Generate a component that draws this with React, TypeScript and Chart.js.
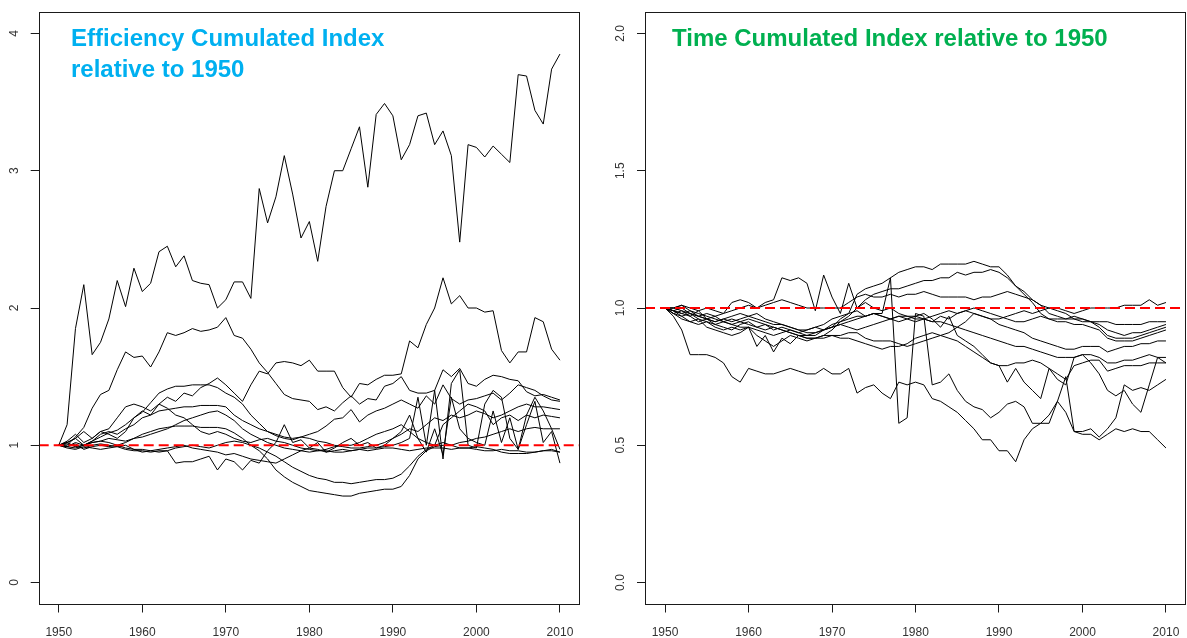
import React, { useEffect, useRef } from 'react';
import { Chart, registerables } from 'chart.js';

Chart.register(...registerables);

// ---------- data ----------
const YEARS = Array.from({ length: 61 }, (_, i) => 1950 + i);
const X_TICKS = [1950, 1960, 1970, 1980, 1990, 2000, 2010];
const X_MIN = 1947.6;
const X_MAX = 2012.4;
const EFF_Y_TICKS = [0, 1, 2, 3, 4];
const TIME_Y_TICKS = [0, 0.5, 1, 1.5, 2];
const REF_LEVEL = 1;

const EFF_TITLE = ['Efficiency Cumulated Index', 'relative to 1950'];
const TIME_TITLE = ['Time Cumulated Index relative to 1950'];

// Efficiency cumulated index, 1950..2010
const EFF_A = [
  1.00, 1.15, 1.85, 2.17, 1.66, 1.75, 1.92, 2.20, 2.01, 2.29,
  2.12, 2.18, 2.41, 2.45, 2.30, 2.38, 2.20, 2.18, 2.17, 2.00,
  2.06, 2.19, 2.19, 2.07, 2.87, 2.62, 2.81, 3.11, 2.83, 2.51,
  2.63, 2.34, 2.74, 3.00, 3.00, 3.16, 3.32, 2.88, 3.41, 3.49,
  3.40, 3.08, 3.19, 3.40, 3.42, 3.19, 3.29, 3.11, 2.48, 3.19,
  3.17, 3.10, 3.18, 3.12, 3.06, 3.70, 3.69, 3.44, 3.34, 3.74, 3.85,
];
const EFF_B = [
  1.00, 1.00, 1.06, 1.13, 1.27, 1.37, 1.40, 1.55, 1.68, 1.64,
  1.65, 1.57, 1.68, 1.82, 1.80, 1.82, 1.85, 1.83, 1.84, 1.86,
  1.93, 1.80, 1.78, 1.70, 1.60, 1.53, 1.45, 1.37, 1.34, 1.33,
  1.32, 1.26, 1.28, 1.25, 1.31, 1.36, 1.30, 1.34, 1.33, 1.43,
  1.45, 1.50, 1.40, 1.38, 1.38, 1.40, 1.55, 1.50, 1.56, 1.45,
  1.43, 1.48, 1.51, 1.50, 1.48, 1.47, 1.39, 1.36, 1.37, 1.35, 1.33,
];
const EFF_C = [
  1.00, 1.03, 1.08, 1.02, 1.05, 1.10, 1.08, 1.05, 1.10, 1.20,
  1.25, 1.22, 1.30, 1.35, 1.32, 1.38, 1.36, 1.42, 1.45, 1.49,
  1.44, 1.38, 1.32, 1.44, 1.54, 1.52, 1.60, 1.61, 1.60, 1.58,
  1.62, 1.54, 1.54, 1.54, 1.42, 1.35, 1.45, 1.44, 1.48, 1.51,
  1.51, 1.52, 1.76, 1.71, 1.88, 2.00, 2.22, 2.03, 2.09, 2.00,
  2.00, 1.97, 1.98, 1.69, 1.60, 1.68, 1.68, 1.93, 1.90, 1.70, 1.62,
];
const EFF_D = [
  1.00, 0.99, 1.02, 1.00, 1.03, 1.06, 1.09, 1.11, 1.15, 1.20,
  1.24, 1.31, 1.38, 1.41, 1.43, 1.43, 1.44, 1.44, 1.44, 1.42,
  1.38, 1.35, 1.30, 1.22, 1.16, 1.10, 1.07, 1.05, 1.04, 1.06,
  1.08, 1.10, 1.14, 1.19, 1.20, 1.26, 1.17, 1.22, 1.25, 1.27,
  1.30, 1.33, 1.30, 1.27, 1.36, 1.30, 1.44, 1.34, 1.30, 1.33,
  1.34, 1.36, 1.38, 1.33, 1.38, 1.44, 1.42, 1.40, 1.36, 1.33, 1.32,
];
const EFF_E = [
  1.00, 1.02, 1.05, 1.00, 1.03, 1.08, 1.10, 1.08, 1.12, 1.15,
  1.20, 1.22, 1.25, 1.26, 1.27, 1.28, 1.28, 1.29, 1.29, 1.29,
  1.28, 1.22, 1.18, 1.15, 1.12, 1.10, 1.08, 1.06, 1.05, 1.06,
  1.05, 1.03, 1.02, 1.00, 0.99, 0.98, 0.98, 0.99, 1.00, 1.02,
  1.05, 1.08, 1.12, 1.10, 1.15, 1.20, 1.18, 1.22, 1.20, 1.22,
  1.25, 1.23, 1.20, 1.22, 1.25, 1.28, 1.30, 1.28, 1.28, 1.27, 1.26,
];
const EFF_F = [
  1.00, 0.99, 0.98, 1.00, 1.02, 1.03, 1.02, 1.00, 1.02, 1.05,
  1.08, 1.10, 1.12, 1.13, 1.14, 1.14, 1.14, 1.13, 1.13, 1.13,
  1.12, 1.09, 1.05, 1.00, 0.96, 0.90, 0.82, 0.77, 0.73, 0.70,
  0.67, 0.66, 0.65, 0.64, 0.63, 0.63, 0.65, 0.66, 0.67, 0.68,
  0.68, 0.70, 0.78, 0.90, 0.96, 0.99, 1.00, 1.00, 0.98, 0.98,
  0.99, 0.98, 0.97, 0.95, 0.94, 0.94, 0.94, 0.95, 0.96, 0.97, 0.95,
];
const EFF_G = [
  1.00, 0.98, 0.97, 0.99, 0.98, 0.97, 0.98, 0.99, 1.00, 0.97,
  0.95, 0.96, 0.95, 0.96, 0.98, 0.99, 1.00, 0.99, 0.98, 1.00,
  1.02, 1.03, 1.02, 1.00, 0.98, 0.95, 0.92, 0.88, 0.84, 0.81,
  0.78, 0.76, 0.75, 0.73, 0.73, 0.72, 0.73, 0.74, 0.75, 0.75,
  0.76, 0.79, 0.85, 0.92, 0.97, 1.00, 1.02, 1.00, 1.02, 1.03,
  1.05, 1.06, 1.08, 1.10, 1.12, 1.10, 1.12, 1.13, 1.12, 1.12, 1.12,
];
const EFF_H = [
  1.00, 1.02, 0.99, 0.98, 1.00, 1.01, 1.00, 0.99, 0.97, 0.96,
  0.96, 0.95, 0.96, 0.96, 0.87, 0.88, 0.88, 0.90, 0.92, 0.82,
  0.90, 0.88, 0.82, 0.89, 0.87, 0.96, 1.02, 1.15, 1.02, 1.04,
  0.98, 1.02, 0.95, 0.98, 1.02, 1.05, 1.00, 1.02, 0.98, 1.00,
  1.05, 1.10, 1.22, 1.05, 0.95, 1.12, 0.93, 1.35, 1.12, 1.05,
  1.02, 1.00, 1.25, 1.02, 1.20, 0.97, 1.15, 1.32, 1.02, 1.10, 0.87,
];
const EFF_I = [
  1.00, 0.99, 1.01, 0.97, 0.99, 1.00, 0.99, 1.00, 0.98, 0.97,
  0.97, 0.96, 0.97, 0.98, 0.99, 1.00, 0.98, 0.97, 0.96, 0.95,
  0.93, 0.94, 0.92, 0.90, 0.89, 0.88, 0.87, 0.90, 0.93, 0.96,
  0.98, 0.97, 0.95, 0.96, 0.97, 0.96, 0.97, 0.98, 0.98, 0.99,
  1.00, 1.02, 1.05, 1.35, 1.00, 1.40, 0.90, 1.45, 1.55, 1.00,
  0.98, 1.30, 1.40, 1.35, 1.05, 0.97, 1.22, 1.35, 1.25, 1.12, 0.97,
];
const EFF_J = [
  1.00, 1.01, 0.99, 1.00, 1.02, 1.03, 1.05, 1.04, 1.03, 1.05,
  1.06, 1.08, 1.10, 1.12, 1.15, 1.18, 1.20, 1.22, 1.24, 1.25,
  1.22, 1.18, 1.12, 1.08, 1.05, 1.02, 1.00, 0.98, 0.97, 0.96,
  0.95, 0.96, 0.97, 0.99, 1.00, 1.00, 1.02, 1.05, 1.08, 1.10,
  1.12, 1.15, 1.10, 1.05, 1.02, 1.00, 1.15, 1.20, 1.25, 1.30,
  1.28, 1.25, 1.15, 1.20, 1.22, 1.18, 1.22, 1.20, 1.22, 1.21, 1.20,
];
const EFF_K = [
  1.00, 1.02, 1.05, 1.10, 1.05, 1.10, 1.12, 1.20, 1.28, 1.30,
  1.28, 1.25, 1.30, 1.27, 1.22, 1.20, 1.15, 1.10, 1.08, 1.10,
  1.08, 1.05, 1.03, 1.02, 1.04, 1.05, 1.03, 1.02, 1.00, 0.98,
  0.97, 0.96, 0.96, 0.95, 0.95, 0.96, 0.97, 0.96, 0.97, 0.98,
  0.98, 0.97, 0.96, 0.97, 0.98, 0.98, 0.98, 0.97, 0.98, 0.98,
  0.97, 0.96, 0.96, 0.97, 0.96, 0.96, 0.95, 0.95, 0.96, 0.96, 0.95,
];

// Time cumulated index, 1950..2010
const TIME_1 = [
  1.00, 1.00, 1.01, 0.99, 0.98, 0.97, 0.96, 0.95, 0.94, 0.93,
  0.93, 0.92, 0.91, 0.90, 0.91, 0.92, 0.91, 0.90, 0.90, 0.92,
  0.93, 0.96, 0.98, 1.05, 1.07, 1.08, 1.09, 1.11, 1.13, 1.14,
  1.15, 1.15, 1.14, 1.16, 1.16, 1.16, 1.16, 1.17, 1.16, 1.15,
  1.15, 1.12, 1.08, 1.06, 1.03, 1.01, 0.98, 0.97, 0.96, 0.96,
  0.95, 0.95, 0.93, 0.90, 0.89, 0.89, 0.89, 0.90, 0.91, 0.92, 0.93,
];
const TIME_2 = [
  1.00, 0.99, 0.98, 0.99, 0.97, 0.96, 0.97, 0.95, 0.94, 0.95,
  0.96, 0.95, 0.94, 0.93, 0.92, 0.91, 0.90, 0.89, 0.89, 0.90,
  0.92, 0.95, 0.97, 1.00, 1.03, 1.05, 1.06, 1.07, 1.07, 1.08,
  1.09, 1.10, 1.10, 1.11, 1.11, 1.13, 1.12, 1.13, 1.13, 1.14,
  1.13, 1.11, 1.08, 1.05, 1.02, 0.98, 0.96, 0.95, 0.95, 0.94,
  0.94, 0.93, 0.92, 0.89, 0.88, 0.88, 0.88, 0.89, 0.90, 0.91, 0.92,
];
const TIME_3 = [
  1.00, 1.00, 1.01, 1.00, 0.99, 1.00, 0.99, 0.98, 1.02, 1.03,
  1.02, 1.00, 1.01, 1.02, 1.03, 1.02, 1.01, 1.00, 1.00, 1.00,
  1.00, 1.00, 1.02, 1.04, 1.05, 1.04, 1.04, 1.05, 1.04, 1.05,
  1.05, 1.06, 1.05, 1.04, 1.04, 1.04, 1.04, 1.03, 1.04, 1.04,
  1.05, 1.06, 1.05, 1.04, 1.03, 1.01, 1.00, 1.00, 0.99, 0.98,
  0.99, 1.00, 1.00, 1.00, 1.00, 1.01, 1.01, 1.01, 1.03, 1.01, 1.02,
];
const TIME_4 = [
  1.00, 1.00, 0.99, 0.98, 0.97, 0.98, 0.97, 0.98, 0.99, 1.00,
  1.01, 1.00, 1.02, 1.03, 1.11, 1.10, 1.11, 1.09, 0.99, 1.12,
  1.04, 0.98, 1.09, 1.00, 1.02, 1.00, 0.99, 1.00, 0.98, 0.97,
  0.97, 0.96, 0.95, 0.97, 0.96, 0.98, 0.99, 0.98, 0.97, 0.96,
  0.96, 0.97, 0.98, 0.99, 0.98, 0.99, 1.00, 0.99, 0.98, 0.96,
  0.96, 0.95, 0.94, 0.92, 0.91, 0.90, 0.91, 0.91, 0.92, 0.93, 0.94,
];
const TIME_5 = [
  1.00, 0.99, 1.00, 0.98, 0.97, 0.96, 0.95, 0.96, 0.97, 0.98,
  0.97, 0.96, 0.95, 0.94, 0.94, 0.93, 0.92, 0.91, 0.91, 0.92,
  0.94, 0.95, 0.96, 0.97, 0.97, 0.98, 0.97, 0.96, 0.97, 0.96,
  0.95, 0.96, 0.97, 0.98, 0.99, 0.98, 0.99, 1.00, 0.99, 0.98,
  0.97, 0.96, 0.95, 0.95, 0.96, 0.97, 0.96, 0.96, 0.96, 0.97,
  0.96, 0.95, 0.95, 0.95, 0.94, 0.94, 0.94, 0.94, 0.95, 0.95, 0.95,
];
const TIME_6 = [
  1.00, 0.98, 0.96, 0.95, 0.94, 0.95, 0.93, 0.92, 0.93, 0.92,
  0.93, 0.86, 0.90, 0.84, 0.89, 0.87, 0.90, 0.89, 0.89, 0.89,
  0.90, 0.90, 0.91, 0.91, 0.89, 0.88, 0.88, 0.88, 0.87, 0.86,
  0.87, 0.88, 0.89, 0.90, 0.91, 0.93, 0.95, 0.98, 0.97, 0.96,
  0.94, 0.93, 0.92, 0.91, 0.89, 0.88, 0.87, 0.86, 0.85, 0.85,
  0.86, 0.86, 0.86, 0.84, 0.85, 0.86, 0.86, 0.87, 0.87, 0.88, 0.88,
];
const TIME_7 = [
  1.00, 0.99, 0.97, 0.98, 0.96, 0.95, 0.94, 0.95, 0.96, 0.95,
  0.94, 0.93, 0.92, 0.93, 0.92, 0.91, 0.90, 0.90, 0.91, 0.92,
  0.93, 0.94, 0.95, 0.96, 0.97, 0.98, 0.97, 0.96, 0.97, 0.97,
  0.96, 0.96, 0.95, 0.95, 0.94, 0.93, 0.92, 0.91, 0.90, 0.89,
  0.88, 0.87, 0.86, 0.86, 0.85, 0.84, 0.83, 0.82, 0.82, 0.82,
  0.83, 0.83, 0.82, 0.80, 0.80, 0.81, 0.81, 0.82, 0.83, 0.82, 0.82,
];
const TIME_8 = [
  1.00, 0.98, 0.99, 0.97, 0.95, 0.96, 0.94, 0.93, 0.92, 0.94,
  0.95, 0.93, 0.94, 0.92, 0.93, 0.92, 0.91, 0.92, 0.93, 0.92,
  0.93, 0.94, 0.93, 0.92, 0.93, 0.94, 0.95, 0.96, 0.95, 0.96,
  0.97, 0.98, 0.96, 0.93, 0.97, 0.90, 0.88, 0.86, 0.83, 0.80,
  0.79, 0.73, 0.78, 0.73, 0.70, 0.67, 0.78, 0.74, 0.72, 0.82,
  0.83, 0.80, 0.76, 0.70, 0.68, 0.70, 0.65, 0.62, 0.72, 0.82, 0.80,
];
const TIME_9 = [
  1.00, 0.97, 0.92, 0.83, 0.83, 0.83, 0.82, 0.80, 0.75, 0.73,
  0.78, 0.77, 0.76, 0.76, 0.77, 0.78, 0.77, 0.76, 0.76, 0.78,
  0.76, 0.76, 0.78, 0.69, 0.71, 0.72, 0.69, 0.67, 0.73, 0.72,
  0.73, 0.72, 0.67, 0.66, 0.64, 0.62, 0.59, 0.56, 0.52, 0.52,
  0.48, 0.48, 0.44, 0.52, 0.56, 0.58, 0.61, 0.66, 0.62, 0.55,
  0.54, 0.54, 0.52, 0.54, 0.56, 0.55, 0.56, 0.55, 0.55, 0.52, 0.49,
];
const TIME_10 = [
  1.00, 0.99, 0.98, 0.97, 0.99, 0.96, 0.95, 0.96, 0.95, 0.96,
  0.97, 0.98, 0.96, 0.95, 0.94, 0.93, 0.92, 0.92, 0.93, 0.94,
  0.96, 0.97, 0.98, 0.99, 0.97, 0.98, 0.98, 1.11, 0.58, 0.60,
  0.98, 0.97, 0.72, 0.73, 0.76, 0.70, 0.66, 0.64, 0.63, 0.60,
  0.62, 0.65, 0.66, 0.64, 0.58, 0.58, 0.58, 0.66, 0.75, 0.55,
  0.55, 0.56, 0.53, 0.56, 0.60, 0.72, 0.70, 0.71, 0.70, 0.72, 0.74,
];
const TIME_11 = [
  1.00, 0.98, 0.97, 0.95, 0.96, 0.93, 0.92, 0.91, 0.90, 0.91,
  0.93, 0.90, 0.88, 0.86, 0.88, 0.90, 0.89, 0.88, 0.89, 0.90,
  0.90, 0.89, 0.89, 0.88, 0.87, 0.86, 0.85, 0.86, 0.86, 0.87,
  0.89, 0.90, 0.91, 0.90, 0.89, 0.88, 0.86, 0.84, 0.82, 0.80,
  0.79, 0.79, 0.80, 0.80, 0.81, 0.80, 0.78, 0.76, 0.74, 0.79,
  0.80, 0.81, 0.81, 0.77, 0.78, 0.79, 0.79, 0.79, 0.80, 0.80, 0.80,
];

const EFF_SERIES = [EFF_A, EFF_B, EFF_C, EFF_D, EFF_E, EFF_F, EFF_G, EFF_H, EFF_I, EFF_J, EFF_K];
const TIME_SERIES = [TIME_1, TIME_2, TIME_3, TIME_4, TIME_5, TIME_6, TIME_7, TIME_8, TIME_9, TIME_10, TIME_11];

// ---------- rendering ----------
const FONT = '"Liberation Sans", Arial, Helvetica, sans-serif';
const H = 638;
const AXIS_COLOR = '#1a1a1a';

const boxPlugin = {
  id: 'rbox',
  afterDraw(chart: any) {
    const { ctx, chartArea: a } = chart;
    ctx.save();
    ctx.strokeStyle = AXIS_COLOR;
    ctx.lineWidth = 1;
    const l = Math.round(a.left) + 0.5;
    const t = Math.round(a.top) + 0.5;
    const r = Math.round(a.right) - 0.5;
    const b = Math.round(a.bottom) - 0.5;
    ctx.strokeRect(l, t, r - l, b - t);
    ctx.restore();
  },
};

const titlePlugin = {
  id: 'panelTitle',
  afterDraw(chart: any, _args: any, opts: any) {
    const { ctx } = chart;
    ctx.save();
    ctx.font = `bold ${opts.size}px ${FONT}`;
    ctx.fillStyle = opts.color;
    ctx.textBaseline = 'alphabetic';
    ctx.textAlign = 'left';
    (opts.lines as string[]).forEach((t, i) => ctx.fillText(t, opts.x, opts.y + i * opts.gap));
    ctx.restore();
  },
};

type PanelProps = {
  left: number;
  width: number;
  series: number[][];
  yMin: number;
  yMax: number;
  yTicks: number[];
  decimals: number;
  yAxisWidth: number;
  yPad: number;
  padRight: number;
  title: string[];
  titleColor: string;
  titleX: number;
};

function Panel(p: PanelProps) {
  const ref = useRef<HTMLCanvasElement>(null);
  useEffect(() => {
    if (!ref.current) return;
    const datasets: any[] = [
      {
        data: [
          { x: X_MIN, y: REF_LEVEL },
          { x: X_MAX, y: REF_LEVEL },
        ],
        borderColor: '#ff0000',
        borderWidth: 2,
        borderDash: [10, 5],
        pointRadius: 0,
        order: 0,
      },
      ...p.series.map((s) => ({
        data: YEARS.map((yr, i) => ({ x: yr, y: s[i] })),
        borderColor: '#000000',
        borderWidth: 1,
        pointRadius: 0,
        tension: 0,
        order: 1,
      })),
    ];
    const axisGrid = {
      drawOnChartArea: false,
      drawTicks: true,
      tickLength: 8,
      color: AXIS_COLOR,
      lineWidth: 1,
    };
    const chart = new Chart(ref.current, {
      type: 'line',
      data: { datasets },
      plugins: [boxPlugin, titlePlugin],
      options: {
        animation: false,
        responsive: false,
        events: [],
        layout: { padding: { top: 11.5, right: p.padRight, bottom: 0, left: 0 } },
        plugins: {
          legend: { display: false },
          tooltip: { enabled: false },
          panelTitle: { lines: p.title, color: p.titleColor, x: p.titleX, y: 45.5, gap: 31.8, size: 24 },
        } as any,
        scales: {
          x: {
            type: 'linear',
            min: X_MIN,
            max: X_MAX,
            afterBuildTicks: (s: any) => {
              s.ticks = X_TICKS.map((v) => ({ value: v }));
            },
            afterFit: (s: any) => {
              s.height = 33.5;
              s.paddingLeft = 0;
              s.paddingRight = 0;
            },
            grid: axisGrid,
            border: { display: false },
            ticks: {
              autoSkip: false,
              maxRotation: 0,
              padding: 13,
              color: '#333333',
              font: { family: FONT, size: 12 },
              callback: (v: any) => String(v),
            },
          },
          y: {
            type: 'linear',
            min: p.yMin,
            max: p.yMax,
            afterBuildTicks: (s: any) => {
              s.ticks = p.yTicks.map((v) => ({ value: v }));
            },
            afterFit: (s: any) => {
              s.width = p.yAxisWidth;
              s.paddingTop = 0;
              s.paddingBottom = 0;
            },
            grid: axisGrid,
            border: { display: false },
            ticks: {
              minRotation: 90,
              maxRotation: 90,
              crossAlign: 'center',
              padding: p.yPad,
              color: '#333333',
              font: { family: FONT, size: 12 },
              callback: (v: any) => Number(v).toFixed(p.decimals),
            },
          },
        },
      } as any,
    });
    return () => chart.destroy();
  }, []);
  return (
    <div style={{ position: 'absolute', left: p.left, top: 0, width: p.width, height: H }}>
      <canvas ref={ref} width={p.width} height={H} style={{ display: 'block' }} />
    </div>
  );
}

export default function App() {
  return (
    <div style={{ position: 'absolute', left: 0, top: 0, width: 1187, height: H, background: '#ffffff' }}>
      <Panel
        left={0}
        width={590}
        series={EFF_SERIES}
        yMin={-0.16}
        yMax={4.16}
        yTicks={EFF_Y_TICKS}
        decimals={0}
        yAxisWidth={38.7}
        yPad={13}
        padRight={10}
        title={EFF_TITLE}
        titleColor="#00b0f0"
        titleX={71}
      />
      <Panel
        left={590}
        width={597}
        series={TIME_SERIES}
        yMin={-0.08}
        yMax={2.08}
        yTicks={TIME_Y_TICKS}
        decimals={1}
        yAxisWidth={55}
        yPad={8}
        padRight={1}
        title={TIME_TITLE}
        titleColor="#00b050"
        titleX={82}
      />
    </div>
  );
}
